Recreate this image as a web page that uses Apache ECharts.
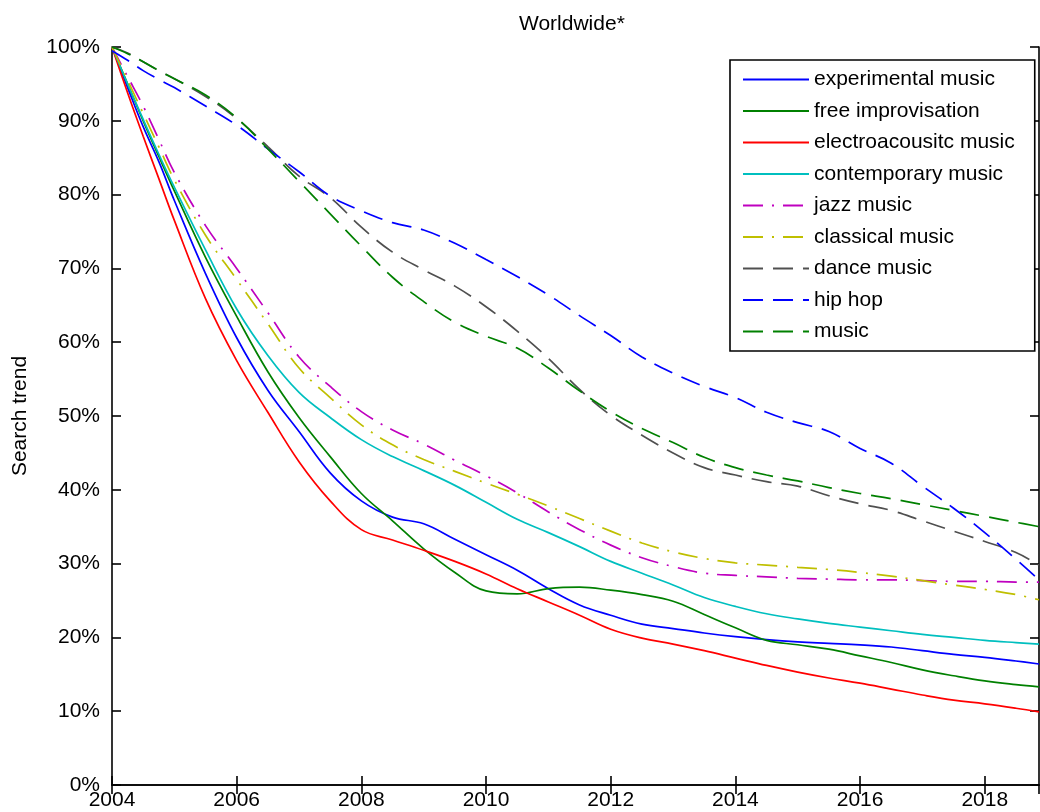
<!DOCTYPE html>
<html>
<head>
<meta charset="utf-8">
<script src="https://cdn.jsdelivr.net/npm/echarts@6/dist/echarts.min.js"></script>
<style>
  html, body { margin: 0; padding: 0; background: #fff; }
  #chart { width: 1040px; height: 812px; }
</style>
</head>
<body>
<div id="chart"></div>
<script>
// Sample years (x positions of the data points)
const years = [2004, 2004.25, 2004.5, 2004.75, 2005, 2005.5, 2006, 2006.5, 2007, 2007.5,
  2008, 2008.5, 2009, 2009.5, 2010, 2010.5, 2011, 2011.5, 2012, 2012.5,
  2013, 2013.5, 2014, 2014.5, 2015, 2015.5, 2016, 2016.5, 2017, 2017.5,
  2018, 2018.5, 2018.87];

const experimentalMusic = [100, 94.5, 89.2, 84.5, 79.2, 69.3, 60.6, 53.5, 47.9, 42.3,
  38.5, 36.3, 35.4, 33.3, 31.2, 29.1, 26.6, 24.4, 23.0, 21.8,
  21.2, 20.6, 20.1, 19.7, 19.4, 19.2, 19.0, 18.7, 18.2, 17.7,
  17.3, 16.8, 16.4];
const freeImprovisation = [100, 95, 90, 85.2, 80.5, 71.5, 63.5, 56, 49.8, 44.5,
  39.5, 35.8, 32.0, 28.8, 26.3, 25.9, 26.6, 26.8, 26.4, 25.8,
  24.9, 23.1, 21.3, 19.6, 19.0, 18.4, 17.5, 16.6, 15.6, 14.8,
  14.1, 13.6, 13.3];
const electroacousticMusic = [100, 93.8, 87.9, 82.2, 76.5, 65.9, 57.5, 50.5, 43.8, 38.5,
  34.6, 33.2, 31.8, 30.3, 28.6, 26.6, 24.8, 23.0, 21.1, 19.9,
  19.1, 18.2, 17.2, 16.2, 15.3, 14.5, 13.8, 13.0, 12.2, 11.5,
  11.0, 10.4, 9.9];
const contemporaryMusic = [100, 95, 90.2, 85.5, 81, 72.5, 64.5, 58.2, 53.2, 49.8,
  46.8, 44.5, 42.6, 40.6, 38.3, 36.0, 34.2, 32.3, 30.3, 28.7,
  27.1, 25.4, 24.2, 23.2, 22.5, 21.9, 21.4, 20.9, 20.4, 20.0,
  19.6, 19.3, 19.1];
const jazzMusic = [100, 96, 92, 87.5, 83, 75.8, 70, 64, 58, 54,
  50.6, 48.1, 46.2, 44, 41.9, 39.6, 37.0, 34.6, 32.5, 30.8,
  29.6, 28.7, 28.4, 28.2, 28.0, 27.9, 27.8, 27.8, 27.7, 27.6,
  27.6, 27.5, 27.5];
const classicalMusic = [100, 95.5, 91, 86.5, 82, 74.5, 68.5, 62.5, 56.5, 52.5,
  48.8, 46.1, 44.1, 42.5, 40.9, 39.4, 37.8, 36.1, 34.4, 32.8,
  31.6, 30.7, 30.1, 29.8, 29.5, 29.2, 28.8, 28.3, 27.7, 27.1,
  26.5, 25.8, 25.1];
const danceMusic = [100, 99.2, 98, 96.8, 95.7, 93.3, 90.3, 86.5, 82.5, 79.6,
  75.6, 72.2, 69.8, 67.6, 64.8, 61.5, 57.8, 53.6, 50.1, 47.4,
  45.0, 43.0, 42.0, 41.1, 40.5, 39.2, 38.1, 37.2, 35.8, 34.4,
  33.0, 31.5, 29.8];
const hipHop = [99.5, 98.2, 96.8, 95.6, 94.5, 92, 89.4, 86.2, 83.1, 79.8,
  77.8, 76.2, 75.2, 73.4, 71.2, 68.9, 66.4, 63.6, 60.9, 58.0,
  55.8, 54.0, 52.5, 50.5, 49.1, 47.9, 45.6, 43.6, 40.5, 37.5,
  34.2, 30.6, 27.8];
const music = [100, 99.1, 98, 96.8, 95.7, 93.5, 90.4, 86.2, 81.8, 77.4,
  73.0, 68.8, 65.5, 62.7, 60.8, 59.2, 56.5, 53.4, 50.6, 48.3,
  46.4, 44.4, 43.0, 42.0, 41.2, 40.3, 39.5, 38.8, 38.0, 37.2,
  36.4, 35.6, 35.0];

const seriesNames = ['experimental music', 'free improvisation', 'electroacousitc music',
  'contemporary music', 'jazz music', 'classical music', 'dance music', 'hip hop', 'music'];
const seriesValues = [experimentalMusic, freeImprovisation, electroacousticMusic,
  contemporaryMusic, jazzMusic, classicalMusic, danceMusic, hipHop, music];
const seriesColors = ['#0000ff', '#008000', '#ff0000', '#00bfbf', '#bf00bf', '#bfbf00',
  '#505050', '#0000ff', '#008000'];
const seriesDash = ['solid', 'solid', 'solid', 'solid', [20, 9, 2, 9], [20, 9, 2, 9],
  [20, 10], [20, 10], [20, 10]];

const yTicks = { min: 0, max: 100, interval: 10 };
const xTicks = { min: 2004, max: 2018.87, interval: 2 };

const FONT = '"Liberation Sans", Arial, sans-serif';

const chart = echarts.init(document.getElementById('chart'), null, { renderer: 'canvas' });

const series = seriesNames.map((name, i) => ({
  name: name,
  type: 'line',
  xAxisIndex: 0,
  yAxisIndex: 0,
  showSymbol: false,
  symbol: 'none',
  smooth: 0.4,
  lineStyle: { color: seriesColors[i], width: 1.7, type: seriesDash[i] },
  itemStyle: { color: seriesColors[i] },
  emphasis: { disabled: true },
  data: years.map((y, k) => [y, seriesValues[i][k]])
}));

const axisLineStyle = { show: true, lineStyle: { color: '#000', width: 1.6 } };
const tickStyle = { show: true, inside: true, length: 9, lineStyle: { color: '#000', width: 1.6 } };

chart.setOption({
  animation: false,
  backgroundColor: '#fff',
  title: {
    text: 'Worldwide*',
    left: 514,
    top: 9,
    textStyle: { fontFamily: FONT, fontSize: 21, fontWeight: 'normal', color: '#000' }
  },
  grid: { left: 112, top: 47, width: 927, height: 738, containLabel: false, outerBoundsMode: 'none' },
  legend: {
    orient: 'vertical',
    left: 730,
    top: 60,
    padding: [9, 20, 9, 12],
    itemWidth: 66,
    itemHeight: 14,
    itemGap: 10.5,
    backgroundColor: '#fff',
    borderColor: '#000',
    borderWidth: 1.6,
    itemStyle: { opacity: 0 },
    textStyle: { fontFamily: FONT, fontSize: 21, lineHeight: 21, color: '#000' },
    data: seriesNames
  },
  xAxis: [{
    type: 'value',
    min: xTicks.min, max: xTicks.max, interval: xTicks.interval,
    position: 'bottom',
    axisLine: axisLineStyle,
    axisTick: tickStyle,
    splitLine: { show: false },
    axisLabel: { show: true, showMaxLabel: false, margin: 5, fontFamily: FONT, fontSize: 21, color: '#000',
      formatter: v => String(v) }
  }, {
    type: 'value',
    min: xTicks.min, max: xTicks.max, interval: xTicks.interval,
    position: 'top',
    axisLine: axisLineStyle,
    axisTick: tickStyle,
    splitLine: { show: false },
    axisLabel: { show: false }
  }],
  yAxis: [{
    type: 'value',
    min: yTicks.min, max: yTicks.max, interval: yTicks.interval,
    position: 'left',
    name: 'Search trend',
    nameLocation: 'middle',
    nameGap: 81,
    nameTextStyle: { fontFamily: FONT, fontSize: 21, color: '#000' },
    axisLine: axisLineStyle,
    axisTick: tickStyle,
    splitLine: { show: false },
    axisLabel: { margin: 12, fontFamily: FONT, fontSize: 21, color: '#000', formatter: '{value}%' }
  }, {
    type: 'value',
    min: yTicks.min, max: yTicks.max, interval: yTicks.interval,
    position: 'right',
    axisLine: axisLineStyle,
    axisTick: tickStyle,
    splitLine: { show: false },
    axisLabel: { show: false }
  }],
  series: series
});
</script>
</body>
</html>
